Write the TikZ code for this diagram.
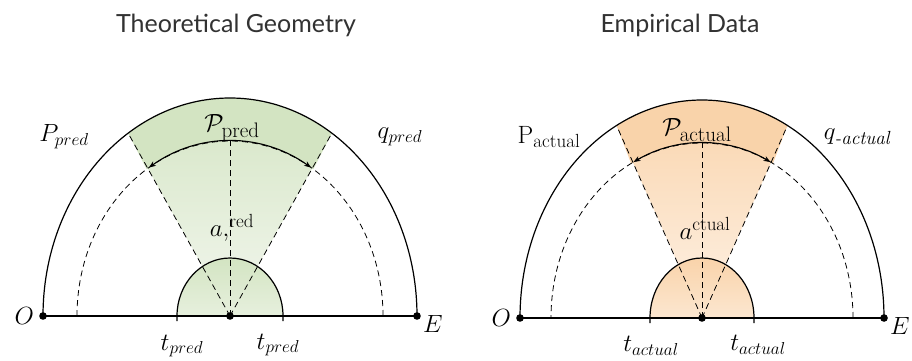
\documentclass[tikz,border=0pt]{standalone}
\usepackage{amsmath}
\usepackage{fontspec}
\newfontfamily\titlefont{Lato}
\usetikzlibrary{arrows.meta,positioning}
\DeclareMathSizes{25}{25}{19}{15}
\DeclareMathSizes{28}{28}{21}{16}
\definecolor{predband}{RGB}{211,228,194}
\definecolor{predlight}{RGB}{243,247,239}
\definecolor{actband}{RGB}{249,211,170}
\definecolor{actlight}{RGB}{254,242,230}
\definecolor{inkgray}{RGB}{50,50,50}
\tikzset{
  rim/.style={line width=1.2pt,black},
  guide/.style={line width=0.8pt,dash pattern=on 6pt off 4pt},
  sweep/.style={line width=1.1pt,{Stealth[length=7pt]}-{Stealth[length=7pt]}},
  lbl/.style={font=\fontsize{25}{28}\selectfont,inner sep=1pt},
  biglbl/.style={font=\fontsize{28}{30}\selectfont,inner sep=1pt},
  heading/.style={font=\titlefont\fontsize{25}{28}\selectfont,text=inkgray}
}
\begin{document}
\begin{tikzpicture}[x=1pt,y=1pt]
\useasboundingbox (0,0) rectangle (912,360);

\coordinate (L) at (230,44);
\coordinate (OL) at (43,44);
\coordinate (EL) at (417,44);
\coordinate (R) at (702,42);
\coordinate (OR) at (520,42);
\coordinate (ER) at (884,42);
\path (L) ++(123:187 and 218) coordinate (Ltop);
\path (R) ++(118:182 and 218) coordinate (Rtop);

\node[heading] (theory) at (236,335) {Theoretical Geometry};
\node[heading] (empiric) at (680,335) {Empirical Data};

\shade[top color=predband,bottom color=predlight] (L) -- ++(57:187 and 218) arc[start angle=57,end angle=123,x radius=187,y radius=218] -- cycle;
\fill[predband] (L) ++(57:153 and 175) arc[start angle=57,end angle=123,x radius=153,y radius=175] -- (Ltop) arc[start angle=123,end angle=57,x radius=187,y radius=218] -- cycle;
\shade[top color=predband,bottom color=predband!55!white] (L) ++(53,0) arc[start angle=0,end angle=180,x radius=53,y radius=58] -- cycle;

\draw[guide] (L) ++(153,0) arc[start angle=0,end angle=180,x radius=153,y radius=175];
\draw[guide] (L) -- ++(57:187 and 218);
\draw[guide] (L) -- (Ltop);
\draw[guide] (L) -- ++(0,175);
\draw[rim] (L) ++(53,-5) -- ++(0,5) arc[start angle=0,end angle=180,x radius=53,y radius=58] -- ++(0,-5);
\draw[rim] (EL) arc[start angle=0,end angle=180,x radius=187,y radius=218];
\draw[rim] (OL) -- (EL);
\draw[sweep] (L) ++(122:153 and 175) arc[start angle=122,end angle=58,x radius=153,y radius=175];
\fill (OL) circle (3.8pt) (L) circle (3.8pt) (EL) circle (3.8pt);

\node[lbl] (p1) at (64,223) {$P_{pred}$};
\node[lbl] (q1) at (400,223) {$q_{pred}$};
\node[biglbl] (cp1) at (232,232) {$\mathcal{P}_{\mathrm{pred}}$};
\node[lbl] (a1) at (232,132) {$a{,}^{\mathrm{red}}$};
\node[lbl] (t1) at (182,14) {$t_{pred}$};
\node[lbl] (t2) at (278,15) {$t_{pred}$};
\node[lbl,left=8pt of OL] (o1) {$O$};
\node[lbl,below right=-2pt and 5pt of EL] (e1) {$E$};

\shade[top color=actband,bottom color=actlight] (R) -- ++(62:182 and 218) arc[start angle=62,end angle=118,x radius=182,y radius=218] -- cycle;
\fill[actband] (R) ++(62:151 and 175) arc[start angle=62,end angle=118,x radius=151,y radius=175] -- (Rtop) arc[start angle=118,end angle=62,x radius=182,y radius=218] -- cycle;
\shade[top color=actband,bottom color=actband!55!white] (R) ++(52,0) arc[start angle=0,end angle=180,x radius=52,y radius=60] -- cycle;

\draw[guide] (R) ++(151,0) arc[start angle=0,end angle=180,x radius=151,y radius=175];
\draw[guide] (R) -- ++(62:182 and 218);
\draw[guide] (R) -- (Rtop);
\draw[guide] (R) -- ++(0,175);
\draw[rim] (R) ++(52,-5) -- ++(0,5) arc[start angle=0,end angle=180,x radius=52,y radius=60] -- ++(0,-5);
\draw[rim] (ER) arc[start angle=0,end angle=180,x radius=182,y radius=218];
\draw[rim] (OR) -- (ER);
\draw[sweep] (R) ++(117:151 and 175) arc[start angle=117,end angle=63,x radius=151,y radius=175];
\fill (OR) circle (3.8pt) (R) circle (3.8pt) (ER) circle (3.8pt);

\node[lbl] (p2) at (549,223) {$\mathrm{P}_{\mathrm{actual}}$};
\node[lbl] (q2) at (857,223) {$q_{\textit{-actual}}$};
\node[biglbl] (cp2) at (697,230) {$\mathcal{P}_{\mathrm{actual}}$};
\node[lbl] (a2) at (705,132) {$a^{\mathrm{ctual}}$};
\node[lbl] (t3) at (651,14) {$t_{actual}$};
\node[lbl] (t4) at (758,15) {$t_{actual}$};
\node[lbl,left=8pt of OR] (o2) {$O$};
\node[lbl,below right=-2pt and 5pt of ER] (e2) {$E$};
\end{tikzpicture}
\end{document}
